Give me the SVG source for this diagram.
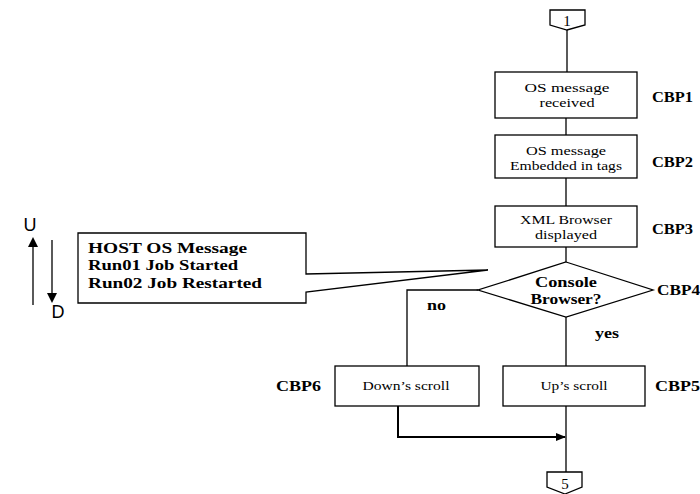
<svg xmlns="http://www.w3.org/2000/svg" width="700" height="494" viewBox="0 0 700 494">
<defs>
<style>
.box{fill:#fff;stroke:#000;stroke-width:1.3}
.t{font-family:"Liberation Serif",serif;font-size:12.5px;text-anchor:middle;fill:#000}
.b{font-family:"Liberation Serif",serif;font-size:14px;font-weight:bold;fill:#000}
.s{font-family:"Liberation Sans",sans-serif;font-size:17px;fill:#000;text-anchor:middle}
.c{fill:none;stroke:#000;stroke-width:1.3}
</style>
<marker id="ah" markerWidth="10" markerHeight="8" refX="9" refY="4" orient="auto" markerUnits="userSpaceOnUse">
<path d="M0,0 L10,4 L0,8 Z" fill="#000"/>
</marker>
</defs>
<rect width="700" height="494" fill="#fff"/>

<g id="connectors">
<path class="c" d="M567,30 V72"/>
<path class="c" d="M566,118 V135"/>
<path class="c" d="M566,178 V206"/>
<path class="c" d="M566,247 V262"/>
<path class="c" d="M566,317 V366"/>
<path class="c" d="M478,290 H407 V366"/>
<path class="c" d="M566,406 V472"/>
<path fill="none" stroke="#000" stroke-width="2" d="M398,406 V437 H565" marker-end="url(#ah)"/>
</g>

<g id="conn1">
<polygon class="box" points="550,10 585,10 585,25 567,30 550,25"/>
<text class="t" x="567" y="26" style="font-size:15px">1</text>
</g>

<g id="cbp1">
<rect class="box" x="495" y="72" width="142" height="46"/>
<text class="t" x="567" y="92" textLength="85" lengthAdjust="spacingAndGlyphs">OS message</text>
<text class="t" x="567" y="107" textLength="55" lengthAdjust="spacingAndGlyphs">received</text>
<text class="b" x="652" y="102" textLength="41" lengthAdjust="spacingAndGlyphs">CBP1</text>
</g>

<g id="cbp2">
<rect class="box" x="495" y="135" width="142" height="43"/>
<text class="t" x="566" y="155" textLength="80" lengthAdjust="spacingAndGlyphs">OS message</text>
<text class="t" x="566" y="170" textLength="112" lengthAdjust="spacingAndGlyphs">Embedded in tags</text>
<text class="b" x="652" y="167" textLength="41" lengthAdjust="spacingAndGlyphs">CBP2</text>
</g>

<g id="cbp3">
<rect class="box" x="495" y="206" width="142" height="41"/>
<text class="t" x="566" y="224" textLength="92" lengthAdjust="spacingAndGlyphs">XML Browser</text>
<text class="t" x="566" y="239" textLength="62" lengthAdjust="spacingAndGlyphs">displayed</text>
<text class="b" x="652" y="234" textLength="41" lengthAdjust="spacingAndGlyphs">CBP3</text>
</g>

<g id="cbp4">
<polygon class="box" points="566,262 653,290 566,317 478,290"/>
<text class="b" x="566" y="287" text-anchor="middle" textLength="62" lengthAdjust="spacingAndGlyphs">Console</text>
<text class="b" x="566" y="304" text-anchor="middle" textLength="71" lengthAdjust="spacingAndGlyphs">Browser?</text>
<text class="b" x="657" y="295" textLength="43" lengthAdjust="spacingAndGlyphs">CBP4</text>
</g>

<g id="labels">
<text class="b" x="427" y="310" textLength="19" lengthAdjust="spacingAndGlyphs">no</text>
<text class="b" x="595" y="338" textLength="24" lengthAdjust="spacingAndGlyphs">yes</text>
</g>

<g id="cbp6">
<rect class="box" x="335" y="366" width="144" height="40"/>
<text class="t" x="406" y="390" textLength="87" lengthAdjust="spacingAndGlyphs">Down’s scroll</text>
<text class="b" x="276" y="391" textLength="45" lengthAdjust="spacingAndGlyphs">CBP6</text>
</g>

<g id="cbp5">
<rect class="box" x="503" y="366" width="142" height="40"/>
<text class="t" x="574" y="390" textLength="67" lengthAdjust="spacingAndGlyphs">Up’s scroll</text>
<text class="b" x="655" y="391" textLength="45" lengthAdjust="spacingAndGlyphs">CBP5</text>
</g>

<g id="conn5">
<polygon class="box" points="547,472 582,472 582,487 565,494 547,487"/>
<text class="t" x="565" y="489" style="font-size:15px">5</text>
</g>

<g id="callout">
<path class="box" d="M78,233 H306 V274 L488,270 L306,292 V303 H78 Z"/>
<text class="b" x="88" y="253" textLength="159" lengthAdjust="spacingAndGlyphs">HOST OS Message</text>
<text class="b" x="88" y="270" textLength="150" lengthAdjust="spacingAndGlyphs">Run01 Job Started</text>
<text class="b" x="88" y="288" textLength="174" lengthAdjust="spacingAndGlyphs">Run02 Job Restarted</text>
</g>

<g id="updown">
<text class="s" x="30" y="231" style="font-size:18px">U</text>
<path class="c" stroke-width="2" d="M33,305 V245"/>
<path d="M28,247 L33,237 L38,247 Z" fill="#000"/>
<path class="c" stroke-width="2" d="M52,240 V295"/>
<path d="M47,293 L52,303 L57,293 Z" fill="#000"/>
<text class="s" x="58" y="318" style="font-size:18px">D</text>
</g>
</svg>
